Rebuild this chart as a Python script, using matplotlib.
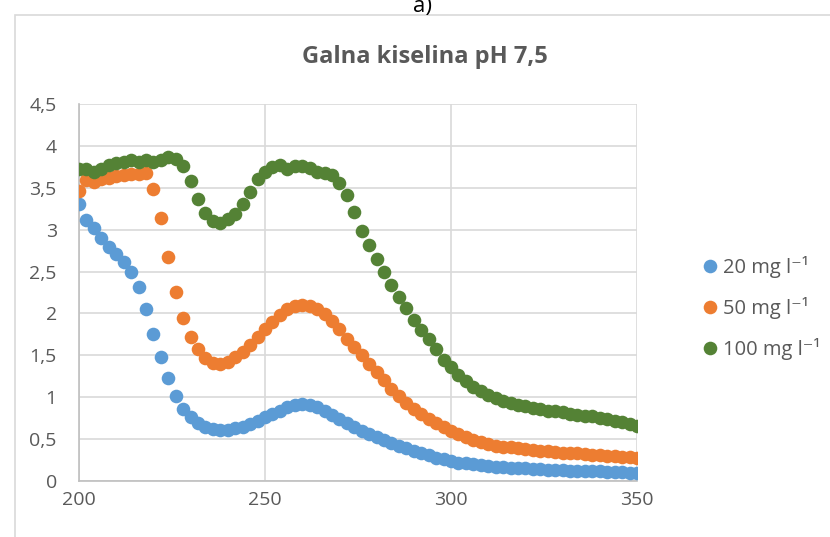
import numpy as np
import matplotlib
matplotlib.use('Agg')
import matplotlib.pyplot as plt
from matplotlib.patches import Rectangle
from matplotlib.ticker import FuncFormatter, MultipleLocator

plt.rcParams['font.family'] = ['Open Sans', 'DejaVu Sans']

# wavelength, nm (step 2)
wavelength = list(range(200, 352, 2))

abs_20 = [3.31, 3.11, 3.02, 2.90, 2.79, 2.71, 2.61, 2.49, 2.31, 2.05,
          1.75, 1.48, 1.23, 1.01, 0.86, 0.76, 0.69, 0.65, 0.62, 0.61,
          0.61, 0.63, 0.65, 0.68, 0.72, 0.76, 0.80, 0.84, 0.88, 0.91,
          0.92, 0.91, 0.88, 0.84, 0.79, 0.74, 0.69, 0.64, 0.60, 0.56,
          0.52, 0.49, 0.45, 0.42, 0.39, 0.36, 0.33, 0.31, 0.28, 0.26,
          0.24, 0.22, 0.21, 0.20, 0.19, 0.18, 0.17, 0.165, 0.16, 0.155,
          0.15, 0.145, 0.14, 0.135, 0.13, 0.13, 0.125, 0.12, 0.12, 0.115,
          0.115, 0.11, 0.11, 0.105, 0.10, 0.10]

abs_50 = [3.46, 3.59, 3.57, 3.60, 3.62, 3.64, 3.65, 3.67, 3.67, 3.68,
          3.49, 3.14, 2.67, 2.26, 1.94, 1.72, 1.58, 1.47, 1.41, 1.40,
          1.42, 1.48, 1.54, 1.62, 1.72, 1.81, 1.90, 1.98, 2.05, 2.09,
          2.10, 2.09, 2.05, 1.99, 1.91, 1.81, 1.70, 1.60, 1.50, 1.40,
          1.30, 1.20, 1.10, 1.01, 0.93, 0.86, 0.80, 0.74, 0.69, 0.64,
          0.60, 0.56, 0.52, 0.49, 0.46, 0.44, 0.42, 0.41, 0.40, 0.39,
          0.38, 0.37, 0.36, 0.355, 0.35, 0.34, 0.335, 0.33, 0.32, 0.315,
          0.31, 0.30, 0.295, 0.29, 0.285, 0.28]

abs_100 = [3.73, 3.72, 3.69, 3.73, 3.77, 3.79, 3.81, 3.83, 3.81, 3.83,
           3.81, 3.83, 3.87, 3.84, 3.76, 3.58, 3.37, 3.20, 3.10, 3.08,
           3.13, 3.19, 3.31, 3.45, 3.61, 3.69, 3.75, 3.77, 3.72, 3.76,
           3.76, 3.74, 3.69, 3.68, 3.65, 3.56, 3.41, 3.21, 2.98, 2.82,
           2.65, 2.49, 2.34, 2.20, 2.06, 1.92, 1.80, 1.69, 1.57, 1.45,
           1.36, 1.27, 1.19, 1.12, 1.07, 1.03, 0.99, 0.96, 0.93, 0.91,
           0.89, 0.87, 0.86, 0.84, 0.83, 0.82, 0.80, 0.79, 0.78, 0.77,
           0.75, 0.74, 0.72, 0.70, 0.68, 0.66]

labels = ['20 mg l\u207b\u00b9', '50 mg l\u207b\u00b9', '100 mg l\u207b\u00b9']
colors = ['#5B9BD5', '#ED7D31', '#548235']

fig = plt.figure(figsize=(8.3, 5.37), dpi=100)
ax = fig.add_axes([79 / 830, 1 - 481 / 537, 558 / 830, 377 / 537])

for y, lab, c in zip([abs_20, abs_50, abs_100], labels, colors):
    ax.plot(wavelength, y, linestyle='none', marker='o', markersize=9.8,
            markeredgewidth=0, color=c, label=lab, zorder=3)

ax.set_xlim(200, 350)
ax.set_ylim(0, 4.5)
ax.xaxis.set_major_locator(MultipleLocator(50))
ax.yaxis.set_major_locator(MultipleLocator(0.5))
ax.yaxis.set_major_formatter(FuncFormatter(lambda v, p: f'{v:g}'.replace('.', ',')))
ax.grid(True, color='#D9D9D9', linewidth=1.2, zorder=0)
ax.set_axisbelow(True)
ax.tick_params(length=0, labelsize=14, labelcolor='#595959')
ax.tick_params(axis='x', pad=7)
ax.tick_params(axis='y', pad=16)
for s in ['top', 'right']:
    ax.spines[s].set_visible(False)
for s in ['left', 'bottom']:
    ax.spines[s].set_color('#BFBFBF')
    ax.spines[s].set_linewidth(1.2)

fig.text(425 / 830, 1 - 57 / 537, 'Galna kiselina pH 7,5', ha='center', va='center',
         fontsize=17, fontweight='bold', color='#595959')
fig.text(423 / 830, 1 - 12 / 537, 'a)', ha='center', va='baseline', fontsize=16, color='black')

# outer chart frame
fig.patches.append(Rectangle((15 / 830, -0.5), 2, 1.5 - 15 / 537, transform=fig.transFigure,
                             fill=False, edgecolor='#D9D9D9', linewidth=1.2))

leg = fig.legend(loc='center left', bbox_to_anchor=(680 / 830, 1 - 308 / 537), frameon=False,
                 fontsize=14.5, handletextpad=0.05, labelspacing=0.95, handlelength=1.2,
                 markerscale=1.0)
for t in leg.get_texts():
    t.set_color('#595959')

fig.savefig('out.png', dpi=100)
